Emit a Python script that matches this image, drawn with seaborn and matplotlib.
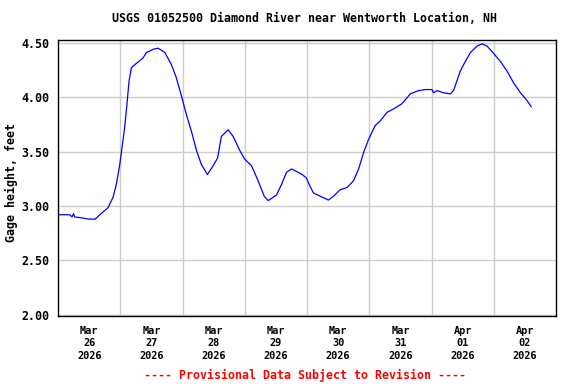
import pandas as pd
import matplotlib
matplotlib.use("Agg")
import matplotlib.pyplot as plt
import matplotlib.ticker as mticker
import seaborn as sns

# gage height readings, hours after 2026-03-26 00:00
hours = [0, 4.6, 5.4, 6.0, 6.4, 9.6, 11.6, 14.3, 16.6, 19.3, 21.2, 22.5, 23.8,
         24.7, 25.7, 26.6, 27.4, 28.3, 30.2, 32.8, 34.1, 36.7, 38.6, 41.2, 43.7,
         45.6, 47.6, 49.5, 51.4, 53.4, 55.3, 57.6, 59.8, 61.5, 63.0, 65.6, 67.5,
         70.1, 72.0, 74.6, 77.2, 79.5, 81.0, 84.2, 86.2, 88.1, 90.0, 92.6, 94.1,
         95.7, 97.2, 98.5, 101.1, 104.3, 106.2, 108.8, 111.4, 113.9, 115.9,
         117.8, 119.7, 122.3, 124.2, 126.8, 130.0, 132.6, 135.8, 139.0, 141.6,
         144.2, 144.8, 146.1, 148.7, 151.3, 152.5, 153.8, 155.1, 156.4, 159.0,
         161.6, 163.5, 165.4, 168.0, 170.5, 173.1, 175.7, 178.3, 180.8, 182.5]
gage_ft = [2.92, 2.92, 2.90, 2.93, 2.90, 2.89, 2.88, 2.88, 2.93, 2.985, 3.08,
           3.20, 3.38, 3.54, 3.72, 3.94, 4.15, 4.27, 4.31, 4.36, 4.41, 4.44,
           4.45, 4.41, 4.30, 4.18, 4.01, 3.84, 3.69, 3.51, 3.38, 3.29, 3.37,
           3.44, 3.64, 3.70, 3.64, 3.51, 3.43, 3.37, 3.23, 3.09, 3.05, 3.10,
           3.20, 3.31, 3.34, 3.31, 3.29, 3.26, 3.18, 3.12, 3.09, 3.055, 3.09,
           3.15, 3.17, 3.23, 3.34, 3.49, 3.61, 3.74, 3.78, 3.86, 3.90, 3.94,
           4.03, 4.06, 4.07, 4.07, 4.04, 4.06, 4.04, 4.03, 4.06, 4.15, 4.24,
           4.30, 4.41, 4.47, 4.49, 4.47, 4.40, 4.33, 4.24, 4.13, 4.04, 3.97,
           3.91]

start = pd.Timestamp("2026-03-26 00:00")
days = pd.date_range(start, periods=8, freq="D")
y_ticks = [2.00, 2.50, 3.00, 3.50, 4.00, 4.50]

df = pd.DataFrame({"time": start + pd.to_timedelta(hours, unit="h"),
                   "gage": gage_ft})

sns.set_style("white")
plt.rcParams["font.family"] = ["DejaVu Sans Mono"]
plt.rcParams["font.weight"] = "bold"
plt.rcParams["text.color"] = "black"
plt.rcParams["axes.labelcolor"] = "black"
plt.rcParams["xtick.color"] = "black"
plt.rcParams["ytick.color"] = "black"

fig = plt.figure(figsize=(5.76, 3.84), dpi=100)
ax = fig.add_axes([58 / 576, 1 - 316 / 384, 498 / 576, 276 / 384])

sns.lineplot(data=df, x="time", y="gage", ax=ax, color="#0000ff", linewidth=0.9)

ax.set_xlim(start, start + pd.Timedelta(days=8))
ax.set_ylim(1.99, 4.525)

# grid lines at midnight, date labels at noon
ax.set_xticks(days + pd.Timedelta(hours=12))
ax.set_xticklabels([d.strftime("%b\n%d\n%Y") for d in days], fontsize=7.4,
                   fontweight="bold", linespacing=1.3)
ax.set_xticks(days[1:], minor=True)
ax.set_yticks(y_ticks)
ax.yaxis.set_major_formatter(mticker.FormatStrFormatter("%.2f"))
ax.tick_params(axis="y", labelsize=8.4, length=0, pad=6)
ax.tick_params(axis="x", which="both", length=0, pad=7)
for lab in ax.get_yticklabels():
    lab.set_fontweight("bold")

ax.grid(False)
ax.grid(True, axis="y", which="major", color="#cccccc", linewidth=1)
ax.grid(True, axis="x", which="minor", color="#cccccc", linewidth=1)
for s in ax.spines.values():
    s.set_color("black")
    s.set_linewidth(1)

ax.set_xlabel("")
ax.set_ylabel("Gage height, feet", fontsize=8.4, fontweight="bold")
ax.yaxis.set_label_coords(-40 / 498, (316 - 182) / 276)

fig.text(304 / 576, 1 - 19 / 384,
         "USGS 01052500 Diamond River near Wentworth Location, NH",
         ha="center", va="center", fontsize=8.4, fontweight="bold")
fig.text(305 / 576, 1 - 375 / 384,
         "---- Provisional Data Subject to Revision ----",
         ha="center", va="center", fontsize=8.4, fontweight="bold", color="red")

fig.savefig("out.png", dpi=100)
